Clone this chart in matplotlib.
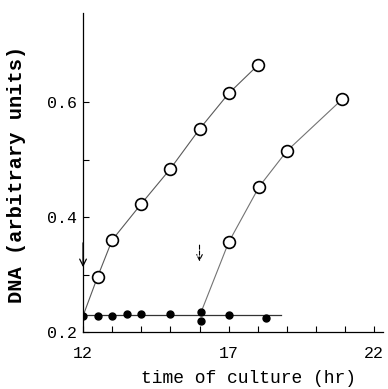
import numpy as np
import matplotlib.pyplot as plt

plt.rcParams['font.family'] = ['Liberation Mono', 'DejaVu Sans Mono']

# control cultures (filled)
ctrl_t = [12.0, 12.5, 13.0, 13.5, 14.0, 15.0, 16.05, 16.05, 17.0, 18.3]
ctrl_dna = [0.228, 0.228, 0.228, 0.232, 0.232, 0.231, 0.234, 0.220, 0.230, 0.224]
ctrl_level = 0.229
ctrl_end = 18.8

# released at 12 hr
a_t = [12.0, 12.5, 13.0, 14.0, 15.0, 16.0, 17.0, 18.0]
a_dna = [0.228, 0.296, 0.360, 0.423, 0.484, 0.553, 0.615, 0.664]

# released at 16 hr
b_t = [16.05, 17.0, 18.05, 19.0, 20.9]
b_dna = [0.234, 0.356, 0.453, 0.515, 0.605]

xticks = np.arange(12, 23, 1)
xlabels = ['12', '', '', '', '', '17', '', '', '', '', '22']

fig = plt.figure(figsize=(3.88, 3.89), dpi=100)
ax = fig.add_axes([0.214, 0.1465, 0.773, 0.82])

ax.plot([12, ctrl_end], [ctrl_level, ctrl_level], color='0.2', lw=0.9, zorder=1)
ax.plot(a_t, a_dna, color='0.35', lw=0.8, zorder=1)
ax.plot(b_t, b_dna, color='0.45', lw=0.8, zorder=1)

ax.plot(a_t[1:], a_dna[1:], 'o', ms=8.5, mfc='white', mec='black', mew=1.2, zorder=3)
ax.plot(b_t[1:], b_dna[1:], 'o', ms=8.5, mfc='white', mec='black', mew=1.2, zorder=3)
ax.plot(ctrl_t, ctrl_dna, 'o', ms=5, color='black', zorder=4)

# arrows marking the time of release
ax.annotate('', xy=(12, 0.308), xytext=(12, 0.36),
            arrowprops=dict(arrowstyle='->', color='black', lw=0.9, mutation_scale=12))
ax.annotate('', xy=(16.0, 0.318), xytext=(16.0, 0.356),
            arrowprops=dict(arrowstyle='->', color='black', lw=0.8, ls='--', mutation_scale=10))

ax.set_xlim(12, 22.3)
ax.set_ylim(0.2, 0.755)
ax.spines['top'].set_visible(False)
ax.spines['right'].set_visible(False)
for s in ['left', 'bottom']:
    ax.spines[s].set_linewidth(0.9)

ax.set_xticks(xticks)
ax.set_xticklabels(xlabels)
ax.set_yticks([0.2, 0.4, 0.6])
ax.set_yticklabels(['0.2', '0.4', '0.6'])
ax.set_yticks([0.3, 0.5], minor=True)
ax.tick_params(axis='x', direction='in', length=4, width=0.8, pad=10, labelsize=12)
ax.tick_params(axis='y', direction='in', length=4, width=0.8, pad=4, labelsize=12)
ax.tick_params(axis='y', which='minor', direction='in', length=4, width=0.8)

ax.set_xlabel('time of culture (hr)', fontsize=13)
ax.xaxis.set_label_coords(0.553, -0.118)
ax.set_ylabel('DNA (arbitrary units)', fontsize=14.7, fontweight='bold')
ax.yaxis.set_label_coords(-0.19, 0.495)

fig.savefig('out.png', dpi=100)
